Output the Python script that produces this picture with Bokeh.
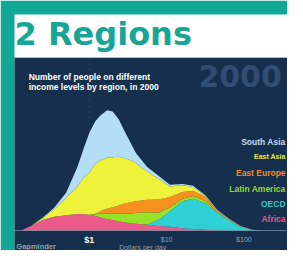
from bokeh.plotting import figure
from bokeh.models import ColumnDataSource, Title, Label, Span, LogAxis, FixedTicker
from bokeh.embed import file_html
from bokeh.resources import INLINE
from bokeh.core.properties import value

# ---- data (people per income bin, arbitrary units) ----
income = [0.13, 0.18, 0.25, 0.35, 0.5, 0.7, 0.85, 1, 1.2, 1.4, 1.7, 2, 2.4, 2.8, 3.4, 4, 4.7, 5.6,
          8, 11, 16, 22, 32, 45, 64, 90, 128, 180]
africa = [0, 24, 50, 63, 70, 75, 74, 72, 66, 60, 52, 48, 42, 38, 34, 32, 30, 27,
          22, 18, 12, 8, 5, 3, 0, 0, 0, 0]
oecd = [0, 0, 0, 0, 0, 0, 0, 0, 0, 0, 0, 0, 0, 0, 0, 0, 0, 0,
        30, 70, 120, 136, 119, 79, 46, 16, 4, 0]
latin_america = [0, 0, 0, 0, 0, 0, 0, 0, 8, 16, 24, 28, 34, 38, 44, 48, 52, 56,
                 30, 16, 12, 12, 8, 4, 2, 2, 0, 0]
east_europe = [0, 0, 0, 0, 0, 0, 0, 0, 2, 13, 24, 30, 38, 45, 50, 52, 54, 56,
               58, 48, 30, 24, 20, 4, 2, 2, 0, 0]
east_asia = [0, 0, 8, 34, 76, 125, 166, 188, 224, 227, 228, 224, 218, 205, 188, 172, 148, 125,
             92, 46, 30, 16, 2, 2, 2, 0, 0, 0]
south_asia = [0, 0, 2, 6, 24, 86, 132, 179, 192, 202, 212, 204, 168, 126, 80, 44, 34, 22,
              12, 8, 6, 6, 4, 2, 2, 2, 1, 0]

regions = ["Africa", "OECD", "Latin America", "East Europe", "East Asia", "South Asia"]
area_colors = ["#ec5a8c", "#2fd0d6", "#98e32a", "#f7901e", "#eef23a", "#b3def5"]

legend_names = ["South Asia", "East Asia", "East Europe", "Latin America", "OECD", "Africa"]
legend_colors = ["#c4dcee", "#e8ea3a", "#f28a1c", "#8fdc2c", "#36c6cc", "#e4588a"]

tick_values = [1, 10, 100]
tick_labels = ["$1", "$10", "$100"]

title_text = "2 Regions"
subtitle_lines = ["Number of people on different", "income levels by region, in 2000"]
year_text = "2000"
x_label = "Dollars per day"
source_text = "Gapminder"

TEAL = "#10a894"
NAVY = "#162f4c"

source = ColumnDataSource(dict(
    x=income,
    **{"Africa": africa, "OECD": oecd, "Latin America": latin_america,
       "East Europe": east_europe, "East Asia": east_asia, "South Asia": south_asia}))

p = figure(width=287, height=250, x_axis_type="log",
           x_range=(0.1074, 366.6), y_range=(-88, 776),
           output_backend="svg", toolbar_location=None,
           y_axis_location=None, title_location=None,
           min_border_left=14, min_border_right=0, min_border_bottom=0, min_border_top=0,
           border_fill_color=TEAL, background_fill_color=NAVY, outline_line_color=None)
p.grid.visible = False

# titles (first added = closest to the frame)
p.add_layout(Title(text=title_text, text_font="DejaVu Sans", text_font_style="bold",
                   text_font_size="32px", text_color="#19a596", background_fill_color="white",
                   padding=(0, 200, 0, 5), standoff=0, offset=0, align="left"), "above")
p.add_layout(Title(text=" ", text_font_size="9px", standoff=0), "above")

# poverty line at $1
p.add_layout(Span(location=1, dimension="height", line_color="#9fb3c8", line_alpha=0.3,
                  line_dash="1 5", level="underlay"))

p.varea_stack(stackers=regions, x="x", color=area_colors, source=source)

# x axis at baseline
ax = p.xaxis[0]
ax.fixed_location = 0
ax.ticker = FixedTicker(ticks=tick_values[1:])
ax.major_label_overrides = {v: l for v, l in zip(tick_values, tick_labels)}
ax.major_tick_line_color = None
ax.major_tick_out = 0
ax.major_tick_in = 0
ax.minor_tick_line_color = None
ax.minor_tick_out = 0
ax.axis_line_color = "#7f93a8"
ax.axis_line_alpha = 0.7
ax.major_label_text_color = "#8fa0b2"
ax.major_label_text_font = "Liberation Sans"
ax.major_label_text_font_size = "7px"
ax.major_label_standoff = 5

ax1 = LogAxis(fixed_location=0, ticker=FixedTicker(ticks=tick_values[:1]),
              major_label_overrides={tick_values[0]: tick_labels[0]},
              major_tick_line_color=None, major_tick_out=0, major_tick_in=0,
              minor_tick_line_color=None, minor_tick_out=0, axis_line_color=None,
              major_label_text_color="white", major_label_text_font="Liberation Sans",
              major_label_text_font_style="bold", major_label_text_font_size="9px",
              major_label_standoff=4)
p.add_layout(ax1, "below")

# axis title
p.add_layout(Label(x=4.9, y=-58, text=x_label, text_color="#8fa0b2",
                   text_font="Liberation Sans", text_font_size="7px",
                   text_align="center", text_baseline="top"))

# legend as coloured labels
leg = ColumnDataSource(dict(
    x=[346] * 6,
    y=[396, 332, 260, 188, 120, 52],
    text=legend_names,
    color=legend_colors,
    size=["8.5px", "7px", "8.5px", "8.5px", "8.5px", "8.5px"]))
p.text(x="x", y="y", text="text", text_color="color", text_font_size="size",
       text_font=value("Liberation Sans"), text_font_style="bold",
       text_align="right", text_baseline="middle", source=leg)

# subtitle, year, source
p.add_layout(Label(x=0.164, y=712, text=subtitle_lines[0], text_color="white",
                   text_font="Liberation Sans", text_font_style="bold", text_font_size="8.5px",
                   text_baseline="top"))
p.add_layout(Label(x=0.164, y=668, text=subtitle_lines[1], text_color="white",
                   text_font="Liberation Sans", text_font_style="bold", text_font_size="8.5px",
                   text_baseline="top"))
p.add_layout(Label(x=310, y=742, text=year_text, text_color="#34527a", text_alpha=0.9,
                   text_font="DejaVu Sans", text_font_style="bold", text_font_size="30px",
                   text_align="right", text_baseline="top"))
p.add_layout(Label(x=0.1135, y=-52, text=source_text, text_color="#8fa5ad",
                   text_font="Liberation Sans", text_font_style="bold", text_font_size="7.5px",
                   text_baseline="top"))

open("out.html", "w").write(file_html(p, INLINE))
